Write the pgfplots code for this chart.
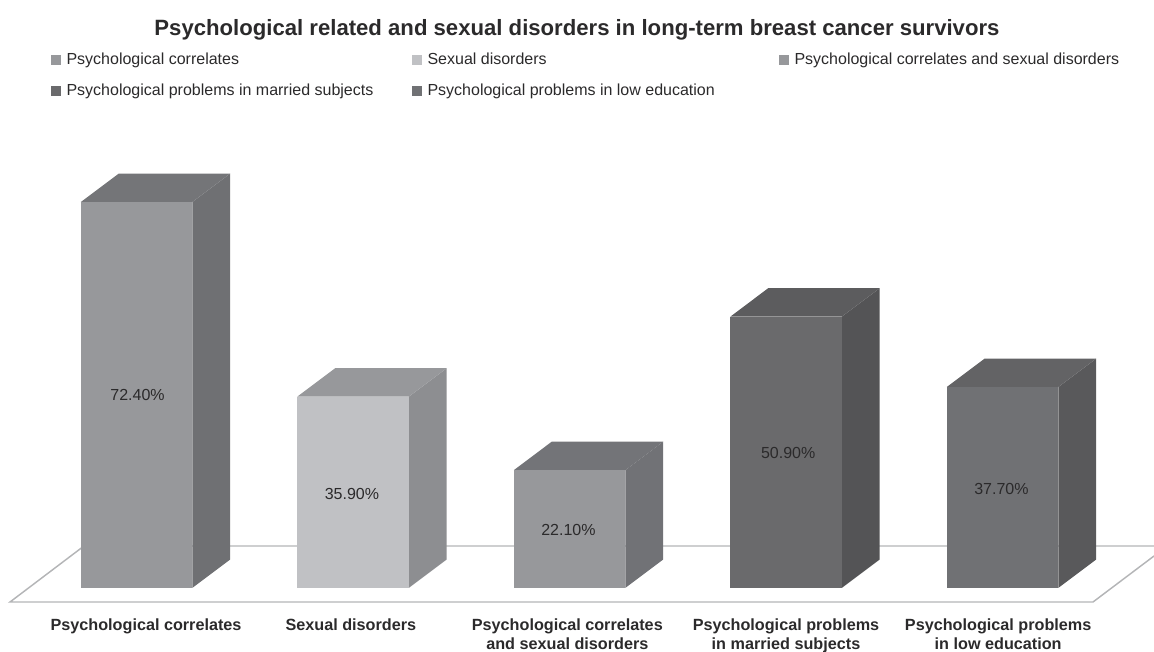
\documentclass[border=0pt]{standalone}
\usepackage{pgfplots}
\pgfplotsset{compat=1.18}
\usepackage{fontspec}
\setmainfont{Liberation Sans}

\definecolor{txt}{HTML}{2B2A2B}
\definecolor{floorline}{HTML}{B4B5B7}
% front, side and top of each bar
\definecolor{fa}{HTML}{97989B}\definecolor{sa}{HTML}{6F7073}\definecolor{ta}{HTML}{747578}
\definecolor{fb}{HTML}{C0C1C4}\definecolor{sb}{HTML}{8D8E91}\definecolor{tb}{HTML}{97989B}
\definecolor{fc}{HTML}{97989B}\definecolor{sc}{HTML}{717276}\definecolor{tc}{HTML}{737478}
\definecolor{fd}{HTML}{6A6A6C}\definecolor{sd}{HTML}{545456}\definecolor{td}{HTML}{5C5C5E}
\definecolor{fe}{HTML}{707174}\definecolor{se}{HTML}{59595B}\definecolor{te}{HTML}{636365}

\begin{document}
\begin{tikzpicture}
  \path[use as bounding box] (0pt,-30pt) rectangle (865.5pt,459pt);
  \begin{axis}[
    scale only axis,
    width=865.5pt,
    height=459pt,
    xmin=-0.6305, xmax=4.6998,
    ymin=-4.503, ymax=110.32,
    clip=false,
    axis line style={draw=none},
    major tick length=0pt,
    ytick=\empty,
    xtick={0.044,0.99,1.99,3.0,3.98},
    xticklabels={
      Psychological correlates,
      Sexual disorders,
      Psychological correlates\\and sexual disorders,
      Psychological problems\\in married subjects,
      Psychological problems\\in low education},
    xticklabel style={
      font=\fontsize{12.15}{14}\selectfont\bfseries,
      text=txt, align=center, anchor=north, yshift=-1.5pt},
    title={Psychological related and sexual disorders in long-term breast cancer survivors},
    every axis title shift=0pt,
    title style={
      at={(0.5,0.951)}, anchor=center,
      font=\fontsize{16.6}{18}\selectfont\bfseries, text=txt},
    legend style={
      at={(0.0407,0.922)}, anchor=north west,
      draw=none, fill=none,
      font=\fontsize{12}{13}\selectfont,
      text=txt,
      legend columns=3,
      row sep=8.75pt,
      /tikz/column 2/.style={column sep=27.15pt},
      /tikz/column 4/.style={column sep=46.3pt},
    },
    legend cell align=left,
    legend image code/.code={
      \path[#1,draw=none] (0pt,-3.75pt) rectangle (7.5pt,3.75pt);
      \path (9.5pt,0pt);
    },
  ]

  % floor
  \addplot[draw=floorline, line width=1.1pt, forget plot] coordinates {
    (4.6998,7.88) (-0.2425,7.88) (-0.5843,-2.63) (4.418,-2.63) (4.6998,6.0)
  };

  % side faces
  \addplot[fill=sa, draw=none, forget plot] coordinates {(0.2575,0) (0.4330,5.35) (0.4330,77.75) (0.2575,72.4)};
  \addplot[fill=sb, draw=none, forget plot] coordinates {(1.2575,0) (1.4330,5.35) (1.4330,41.25) (1.2575,35.9)};
  \addplot[fill=sc, draw=none, forget plot] coordinates {(2.2575,0) (2.4330,5.35) (2.4330,27.45) (2.2575,22.1)};
  \addplot[fill=sd, draw=none, forget plot] coordinates {(3.2575,0) (3.4330,5.35) (3.4330,56.25) (3.2575,50.9)};
  \addplot[fill=se, draw=none, forget plot] coordinates {(4.2575,0) (4.4330,5.35) (4.4330,43.05) (4.2575,37.7)};

  % top faces
  \addplot[fill=ta, draw=none, forget plot] coordinates {(-0.2575,72.4) (0.2575,72.4) (0.4330,77.75) (-0.0820,77.75)};
  \addplot[fill=tb, draw=none, forget plot] coordinates {(0.7425,35.9) (1.2575,35.9) (1.4330,41.25) (0.9180,41.25)};
  \addplot[fill=tc, draw=none, forget plot] coordinates {(1.7425,22.1) (2.2575,22.1) (2.4330,27.45) (1.9180,27.45)};
  \addplot[fill=td, draw=none, forget plot] coordinates {(2.7425,50.9) (3.2575,50.9) (3.4330,56.25) (2.9180,56.25)};
  \addplot[fill=te, draw=none, forget plot] coordinates {(3.7425,37.7) (4.2575,37.7) (4.4330,43.05) (3.9180,43.05)};

  % front faces
  \addplot[ybar, bar width=83.6pt, bar shift=0pt, fill=fa, draw=none] coordinates {(0,72.4)};
  \addlegendentry{Psychological correlates}
  \addplot[ybar, bar width=83.6pt, bar shift=0pt, fill=fb, draw=none] coordinates {(1,35.9)};
  \addlegendentry{Sexual disorders}
  \addplot[ybar, bar width=83.6pt, bar shift=0pt, fill=fc, draw=none] coordinates {(2,22.1)};
  \addlegendentry{Psychological correlates and sexual disorders}
  \addplot[ybar, bar width=83.6pt, bar shift=0pt, fill=fd, draw=none] coordinates {(3,50.9)};
  \addlegendentry{Psychological problems in married subjects}
  \addplot[ybar, bar width=83.6pt, bar shift=0pt, fill=fe, draw=none] coordinates {(4,37.7)};
  \addlegendentry{Psychological problems in low education}

  \node[font=\fontsize{12}{13}\selectfont, text=txt] at (axis cs:0.005,36.2) {72.40\%};
  \node[font=\fontsize{12}{13}\selectfont, text=txt] at (axis cs:0.995,17.6) {35.90\%};
  \node[font=\fontsize{12}{13}\selectfont, text=txt] at (axis cs:1.995,10.9) {22.10\%};
  \node[font=\fontsize{12}{13}\selectfont, text=txt] at (axis cs:3.01,25.3) {50.90\%};
  \node[font=\fontsize{12}{13}\selectfont, text=txt] at (axis cs:3.995,18.6) {37.70\%};
  \end{axis}
\end{tikzpicture}
\end{document}
